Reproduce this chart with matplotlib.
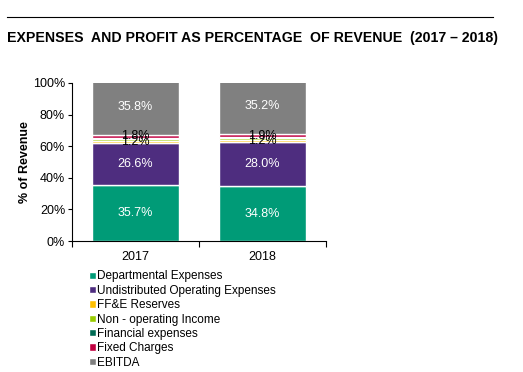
""" Expenses and profit as percentage of revenue, stacked bars """

import matplotlib
matplotlib.use('Agg')
import matplotlib.pyplot as plt
from matplotlib.lines import Line2D

years = ['2017', '2018']
series = ['Departmental Expenses', 'Undistributed Operating Expenses', 'FF&E Reserves',
          'Non - operating Income', 'Financial expenses', 'Fixed Charges', 'EBITDA']
departmental = [35.7, 34.8]
undistributed = [26.6, 28.0]
ffe_reserves = [1.2, 1.2]
non_operating = [1.1, 1.0]
financial = [0.8, 0.8]
fixed_charges = [1.8, 1.9]
ebitda = [35.8, 35.2]

colors = ['#009B77', '#4E2D7F', '#FFC000', '#99CC00', '#006B54', '#C00040', '#808080']
label_colors = ['white', 'white', 'black', None, None, 'black', 'white']

plt.rcParams['font.family'] = ['Liberation Sans', 'DejaVu Sans']

fig = plt.figure(figsize=(5.23, 3.72), dpi=100)
ax = fig.add_axes([0.1377, 0.352, 0.4856, 0.425])

values = [departmental, undistributed, ffe_reserves, non_operating, financial, fixed_charges, ebitda]
x = range(len(years))
bottom = [0.0] * len(years)
for vals, col, lc in zip(values, colors, label_colors):
    ax.bar(x, vals, 0.69, bottom=bottom, color=col, edgecolor='white', linewidth=1.0)
    if lc is not None:
        for i, v in enumerate(vals):
            ax.text(i, bottom[i] + v / 2, '%.1f%%' % v, ha='center', va='center',
                    color=lc, fontsize=9)
    bottom = [b + v for b, v in zip(bottom, vals)]

ax.set_xlim(-0.5, 1.5)
ax.set_ylim(0, 100)
ax.set_yticks([0, 20, 40, 60, 80, 100])
ax.set_yticklabels(['%d%%' % t for t in [0, 20, 40, 60, 80, 100]], fontsize=9)
ax.set_xticks([-0.5, 0.5, 1.5], minor=False)
ax.set_xticklabels(['', '', ''])
ax.set_xticks([0, 1], minor=True)
ax.set_xticklabels(years, minor=True, fontsize=9)
ax.tick_params(axis='x', which='minor', length=0, pad=7)
ax.tick_params(axis='x', which='major', length=4, direction='out')
ax.tick_params(axis='y', length=3, direction='out', pad=2)
ax.spines['top'].set_visible(False)
ax.spines['right'].set_visible(False)
ax.set_ylabel('% of Revenue', fontsize=9, fontweight='bold', labelpad=1)

# header rule and title
fig.add_artist(Line2D([0.0134, 0.9426], [0.954, 0.954], color='black', linewidth=0.8))
fig.text(0.0134, 0.898, 'EXPENSES  AND PROFIT AS PERCENTAGE  OF REVENUE  (2017 \u2013 2018)',
         fontsize=10.2, fontweight='bold', va='center', ha='left')

handles = [plt.Rectangle((0, 0), 1, 1, facecolor=c, edgecolor='white') for c in colors]
fig.legend(handles, series, loc='upper left', bbox_to_anchor=(0.17, 0.273), frameon=False,
           fontsize=8.5, handlelength=0.6, handleheight=0.6, handletextpad=0.1,
           labelspacing=0.2, borderaxespad=0, borderpad=0)

plt.savefig('out.png', dpi=100)
